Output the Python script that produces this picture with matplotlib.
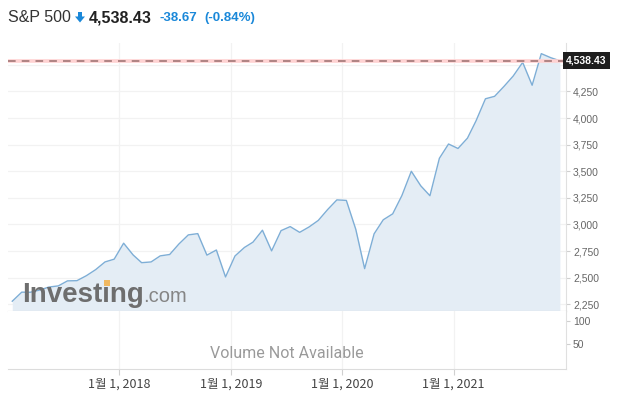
import matplotlib
matplotlib.use("Agg")
import matplotlib.pyplot as plt
import matplotlib.dates as mdates
from matplotlib.ticker import FixedLocator, FuncFormatter
from matplotlib.patches import Polygon, Rectangle
import datetime as dt

# ---------------- data ----------------
months = [dt.datetime(2017 + i // 12, i % 12 + 1, 15) for i in range(60)]
closes = [
    2279, 2364, 2363, 2384, 2412, 2423, 2470, 2472, 2519, 2575, 2648, 2674,
    2824, 2714, 2641, 2648, 2705, 2718, 2816, 2902, 2914, 2712, 2760, 2507,
    2704, 2784, 2834, 2946, 2752, 2942, 2980, 2926, 2977, 3038, 3141, 3231,
    3226, 2954, 2585, 2912, 3044, 3100, 3271, 3500, 3363, 3270, 3622, 3756,
    3714, 3811, 3973, 4181, 4204, 4298, 4395, 4523, 4308, 4605, 4567, 4538,
]
last_price = 4538.43
change = -38.67
change_pct = -0.84
price_ticks = [2250, 2500, 2750, 3000, 3250, 3500, 3750, 4000, 4250, 4500]
volume_ticks = [50, 100]
year_ticks = [dt.datetime(y, 1, 1) for y in (2018, 2019, 2020, 2021)]
year_labels = ["1월 1, 2018", "1월 1, 2019", "1월 1, 2020", "1월 1, 2021"]

# ---------------- figure ----------------
W, H = 626, 396
fig = plt.figure(figsize=(W / 100, H / 100), dpi=100)
fig.patch.set_facecolor("white")

def rect(x0, y0, x1, y1):
    return [x0 / W, 1 - y1 / H, (x1 - x0) / W, (y1 - y0) / H]

def fx(x):
    return x / W

def fy(y):
    return 1 - y / H

ax1 = fig.add_axes(rect(8, 43, 566, 311))
ax2 = fig.add_axes(rect(8, 311, 566, 369), sharex=ax1)

xmin, xmax = dt.datetime(2017, 1, 1), dt.datetime(2022, 1, 4)
grid_c = "#f2f2f2"
line_c = "#7eaed6"
fill_c = "#e4edf5"

for ax in (ax1, ax2):
    ax.set_facecolor("white")
    for s in ("top", "left"):
        ax.spines[s].set_visible(False)
    ax.spines["right"].set_color("#e0e0e0")
    ax.yaxis.tick_right()
    ax.tick_params(axis="y", colors="#d0d0d0", labelcolor="#666666", length=3,
                   width=0.8, pad=2, labelsize=7.5)
    for v in year_ticks:
        ax.axvline(v, color=grid_c, lw=0.9, zorder=0)
ax1.spines["bottom"].set_color("#c4c4c4")
ax1.spines["bottom"].set_zorder(6)
ax2.spines["bottom"].set_color("#dcdcdc")

ax1.set_xlim(xmin, xmax)
ax1.set_ylim(2187, 4705)
ax1.fill_between(months, closes, 2187, color=fill_c, zorder=1, lw=0)
ax1.plot(months, closes, color=line_c, lw=1.0, zorder=3)
for v in price_ticks:
    ax1.axhline(v, color=grid_c, lw=0.9, zorder=0)
ax1.yaxis.set_major_locator(FixedLocator(price_ticks[:-1]))
ax1.yaxis.set_major_formatter(FuncFormatter(lambda v, p: f"{v:,.0f}"))
for lab in ax1.get_yticklabels():
    lab.set_family(["Liberation Sans", "DejaVu Sans"])
ax1.tick_params(axis="x", bottom=False, labelbottom=False)

# last price line
ax1.axhline(last_price, color="#ffd2d2", lw=2.6, zorder=4)
ax1.axhline(last_price, color="#9a6e6e", lw=1.1, ls=(0, (5, 4)), zorder=5)
ax1.text(1.0, last_price, f"{last_price:,.2f}", transform=ax1.get_yaxis_transform(),
         ha="left", va="center", color="white", fontsize=7.5, fontweight="bold",
         family=["Liberation Sans", "DejaVu Sans"], zorder=10, clip_on=False,
         bbox=dict(boxstyle="square,pad=0.32", fc="#1e1e1e", ec="none"))

# watermark
fig.text(fx(22), fy(302), "Investing", fontsize=20, fontweight="bold",
         color="#6e6e6e", family=["Liberation Sans", "DejaVu Sans"],
         ha="left", va="baseline", zorder=8)
fig.text(fx(143), fy(302), ".com", fontsize=14.5, color="#858585",
         family=["Liberation Sans", "DejaVu Sans"], ha="left", va="baseline", zorder=8)
fig.patches.append(Rectangle((fx(104), fy(286)), 6 / W, 6 / H, transform=fig.transFigure,
                             fc="#f0b860", ec="none", zorder=9))

# volume panel
ax2.set_ylim(-2, 120.5)
ax2.yaxis.set_major_locator(FixedLocator(volume_ticks))
ax2.yaxis.set_major_formatter(FuncFormatter(lambda v, p: f"{v:.0f}"))
for lab in ax2.get_yticklabels():
    lab.set_family(["Liberation Sans", "DejaVu Sans"])
ax2.text(0.499, 0.27, "Volume Not Available", transform=ax2.transAxes, ha="center",
         va="center", fontsize=11.5, color="#9a9a9a", family=["Roboto", "DejaVu Sans"])
ax2.xaxis.set_major_locator(FixedLocator(mdates.date2num(year_ticks)))
ax2.set_xticklabels(year_labels)
ax2.tick_params(axis="x", colors="#d0d0d0", labelcolor="#444444", length=4,
                width=0.8, labelsize=9, pad=2)
for lab in ax2.get_xticklabels():
    lab.set_family(["Noto Sans CJK KR", "DejaVu Sans"])

# header
def ftext(x, s, **kw):
    return fig.text(x / W, 1 - 18 / H, s, va="center", ha="left", **kw)

hf = ["Liberation Sans", "DejaVu Sans"]
blue = "#1a88d9"
ftext(8, "S&P 500", fontsize=11.5, color="#333333", family=hf)
arrow = [(78, 12), (82, 12), (82, 16.5), (85, 16.5), (80, 22.5), (75, 16.5), (78, 16.5)]
fig.patches.append(Polygon([(fx(x), fy(y)) for x, y in arrow], closed=True,
                           transform=fig.transFigure, fc=blue, ec="none"))
ftext(89, f"{last_price:,.2f}", fontsize=11.5, color="#222222", fontweight="bold", family=hf)
ftext(160, f"{change:.2f}", fontsize=9.5, color=blue, fontweight="bold", family=hf)
ftext(204, f"({change_pct:.2f}%)", fontsize=9.5, color=blue, fontweight="bold", family=hf)

fig.savefig("out.png", dpi=100, facecolor="white")
